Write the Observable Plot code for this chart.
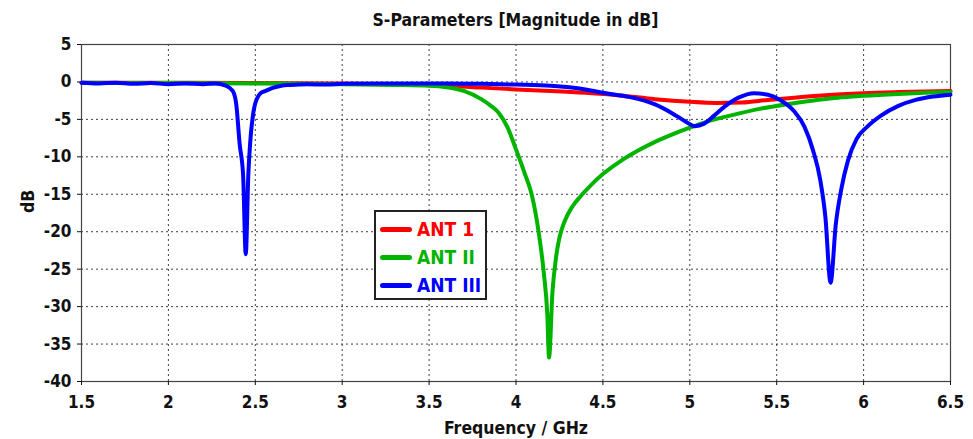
<!DOCTYPE html>
<html>
<head>
<meta charset="utf-8">
<script src="https://cdn.jsdelivr.net/npm/d3@7"></script>
<script src="https://cdn.jsdelivr.net/npm/@observablehq/plot@0.6"></script>
<style>
  html, body { margin: 0; padding: 0; background: #fff; }
  body { width: 973px; height: 439px; position: relative; overflow: hidden;
         font-family: "DejaVu Sans Condensed", "DejaVu Sans", sans-serif; font-stretch: condensed; }
  #title { height: 32px; box-sizing: border-box; padding: 8px 23px 0 81px; line-height: 24px;
           text-align: center; font-weight: bold; font-size: 17.5px; color: #111; }
  #legend { position: absolute; left: 374px; top: 210px; width: 113px; height: 90px; box-sizing: border-box;
            border: 2px solid #222; background: #fff; padding: 3px 0 0 4px; }
  .row { height: 28px; display: flex; align-items: center; font-weight: bold; font-size: 19px; }
  .sw { width: 32px; height: 5px; border-radius: 3px; margin-right: 5px; flex: none; }
</style>
</head>
<body>
<div id="title">S-Parameters [Magnitude in dB]</div>
<div id="chart"></div>
<div id="legend"></div>
<script>
// Return loss of three antennas, S11 in dB over frequency in GHz
const seriesNames = ["ANT 1", "ANT II", "ANT III"];
const seriesColors = ["#ff0000", "#00b400", "#0000ff"];

const ant1Freq = [1.5, 2.0, 2.5, 3.0, 3.3, 3.6, 3.8, 4.0, 4.2, 4.4, 4.6, 4.8, 5.0, 5.15, 5.3, 5.45, 5.6, 5.8, 6.0, 6.2, 6.5];
const ant1Db   = [-0.1, -0.1, -0.15, -0.2, -0.3, -0.5, -0.75, -1.0, -1.2, -1.45, -1.8, -2.3, -2.65, -2.8, -2.75, -2.4, -2.1, -1.75, -1.5, -1.35, -1.2];

const ant2Freq = [1.5, 2.0, 2.5, 3.0, 3.3, 3.5, 3.6, 3.7, 3.8, 3.85, 3.9, 3.95, 4.0, 4.05, 4.09, 4.13, 4.16, 4.18, 4.19,
                  4.21, 4.23, 4.25, 4.28, 4.32, 4.37, 4.43, 4.5, 4.6, 4.7, 4.8, 4.9, 5.0, 5.1, 5.25, 5.4, 5.55, 5.7, 5.85, 6.0, 6.2, 6.35, 6.5];
const ant2Db   = [-0.1, -0.15, -0.2, -0.3, -0.4, -0.5, -0.7, -1.2, -2.3, -3.1, -4.1, -6.0, -9.0, -12.2, -15.0, -20.0, -25.5, -31, -36.8,
                  -28, -23.5, -20.8, -18.6, -16.8, -15.3, -13.8, -12.3, -10.6, -9.2, -8.0, -7.0, -6.1, -5.3, -4.4, -3.6, -3.0, -2.5, -2.1, -1.85, -1.6, -1.45, -1.35];

const ant3Freq = [1.5, 1.6, 1.7, 1.8, 1.9, 2.0, 2.1, 2.2, 2.27, 2.33, 2.37, 2.39, 2.41, 2.43, 2.445, 2.46, 2.47, 2.49, 2.51, 2.53, 2.56, 2.6, 2.65, 2.7,
                  2.8, 2.9, 3.0, 3.2, 3.4, 3.6, 3.8, 4.0, 4.2, 4.4, 4.5, 4.65, 4.8, 4.9, 4.97, 5.03, 5.08, 5.14, 5.2, 5.28, 5.37, 5.45, 5.52,
                  5.6, 5.66, 5.71, 5.75, 5.78, 5.81, 5.84, 5.87, 5.91, 5.96, 6.02, 6.1, 6.2, 6.3, 6.4, 6.5];
const ant3Db   = [-0.1, -0.2, -0.1, -0.25, -0.15, -0.3, -0.2, -0.3, -0.2, -0.5, -1.2, -2.9, -8.3, -12.5, -23, -12.3, -8.3, -3.9, -2.2, -1.5, -1.2, -0.8, -0.5, -0.4,
                  -0.3, -0.35, -0.25, -0.2, -0.2, -0.2, -0.25, -0.35, -0.5, -1.0, -1.45, -2.0, -3.0, -4.2, -5.2, -5.9, -5.6, -4.5, -3.3, -2.1, -1.5, -1.7, -2.4,
                  -3.9, -6.0, -9.2, -13, -18, -26.8, -19, -14.5, -10.5, -7.6, -6.0, -4.5, -3.2, -2.4, -1.95, -1.7];

const xTicks = [1.5, 2, 2.5, 3, 3.5, 4, 4.5, 5, 5.5, 6, 6.5];
const yTicks = [5, 0, -5, -10, -15, -20, -25, -30, -35, -40];

const freqs = [ant1Freq, ant2Freq, ant3Freq];
const dbs = [ant1Db, ant2Db, ant3Db];
const rows = seriesNames.flatMap((name, i) => freqs[i].map((f, j) => ({series: name, freq: f, db: dbs[i][j]})));

const font = "\"DejaVu Sans Condensed\", \"DejaVu Sans\", sans-serif";
const plain = d => String(d);

const chart = Plot.plot({
  width: 973,
  height: 407,
  marginTop: 12,
  marginBottom: 58,
  marginLeft: 81,
  marginRight: 23,
  style: {fontFamily: font, fontSize: "17px", fontWeight: "bold", color: "#111", background: "#fff"},
  x: {domain: [1.5, 6.5]},
  y: {domain: [-40, 5]},
  color: {domain: seriesNames, range: seriesColors},
  marks: [
    Plot.gridX(xTicks, {stroke: "#000", strokeOpacity: 0.75, strokeDasharray: "2,3"}),
    Plot.gridY(yTicks, {stroke: "#000", strokeOpacity: 0.75, strokeDasharray: "2,3"}),
    Plot.frame({stroke: "#444", strokeWidth: 1.2}),
    Plot.axisX(xTicks, {tickSize: 4, tickPadding: 10, tickFormat: plain, label: null, fontSize: 17, fontWeight: "bold"}),
    Plot.axisY(yTicks, {tickSize: 4, tickPadding: 6, tickFormat: plain, label: null, fontSize: 17, fontWeight: "bold"}),
    Plot.line(rows, {x: "freq", y: "db", z: "series", stroke: "series", strokeWidth: 4,
                     curve: "monotone-x", strokeLinejoin: "round", strokeLinecap: "round"}),
    Plot.text(["Frequency / GHz"], {frameAnchor: "bottom", dy: 52, fontSize: 17.5, fontWeight: "bold", fill: "#111"}),
    Plot.text(["dB"], {frameAnchor: "left", dx: -53, rotate: -90, fontSize: 17.5, fontWeight: "bold", fill: "#111"})
  ]
});
document.getElementById("chart").appendChild(chart);

// legend box
const legend = document.getElementById("legend");
seriesNames.forEach((name, i) => {
  const row = document.createElement("div");
  row.className = "row";
  row.style.color = seriesColors[i];
  const sw = document.createElement("span");
  sw.className = "sw";
  sw.style.background = seriesColors[i];
  row.appendChild(sw);
  row.appendChild(document.createTextNode(name));
  legend.appendChild(row);
});
</script>
</body>
</html>
